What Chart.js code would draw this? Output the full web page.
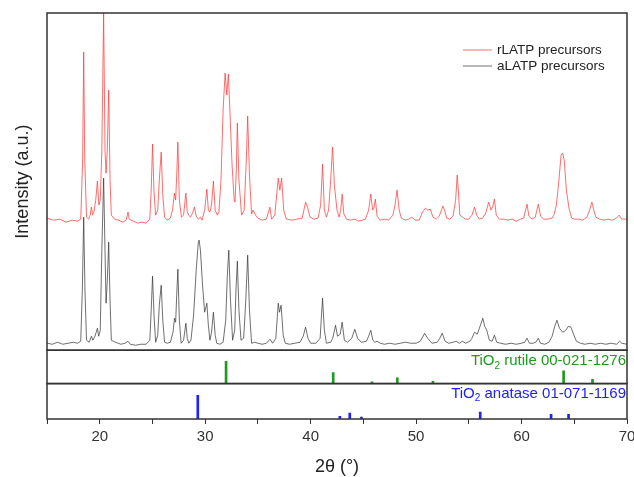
<!DOCTYPE html>
<html>
<head>
<meta charset="utf-8">
<script src="https://cdn.jsdelivr.net/npm/chart.js@4.4.0/dist/chart.umd.min.js"></script>
<style>
  html, body { margin: 0; padding: 0; background: #fff; overflow: hidden; }
  #wrap { width: 634px; height: 477px; }
</style>
</head>
<body>
<div id="wrap"><canvas id="xrdChart" width="634" height="477"></canvas></div>
<script>
// XRD patterns, [2theta, intensity (a.u.)]
var rlatp = [
  [15.0,132],[15.6,130],[16.2,131],[16.8,128],[17.4,130],[17.9,129],
  [18.2,131],[18.38,190],[18.48,298],[18.58,190],[18.75,133],
  [18.95,131],[19.1,135],[19.21,143],[19.32,135],[19.45,138],[19.62,150],[19.78,169],[19.92,145],
  [20.05,150],[20.2,200],[20.37,337],[20.5,200],[20.6,177],[20.72,200],[20.85,260],[20.98,170],[21.1,135],
  [21.4,131],[21.8,130],[22.2,128],[22.5,130],[22.68,138],[22.8,131],[23.2,129],[23.6,127],[24.0,128],[24.4,127],
  [24.75,131],[24.88,160],[25.01,206],[25.14,160],[25.3,135],[25.5,140],[25.65,170],[25.83,198],[25.98,155],[26.15,133],
  [26.4,130],[26.7,132],[26.9,140],[27.09,157],[27.2,150],[27.3,175],[27.41,208],[27.55,150],[27.75,133],
  [27.95,135],[28.17,157],[28.3,138],[28.45,135],[28.6,133],[28.8,137],[28.98,143],[29.15,134],[29.35,131],
  [29.55,133],[29.7,130],[29.95,140],[30.16,161],[30.3,140],[30.45,138],[30.6,145],[30.78,169],[30.95,140],[31.15,135],
  [31.3,138],[31.5,170],[31.7,240],[31.89,277],[32.05,255],[32.2,276],[32.38,230],[32.55,185],[32.75,150],[32.83,148],
  [32.95,180],[33.05,227],[33.2,170],[33.45,135],[33.7,140],[33.9,190],[34.03,234],[34.2,175],[34.4,136],
  [34.55,140],[34.72,136],[34.85,134],[35.0,132],[35.4,130],[35.8,131],[36.14,143],[36.3,131],[36.6,135],
  [36.93,172],[37.08,160],[37.25,172],[37.45,140],[37.7,131],[38.2,130],[38.7,131],[39.2,132],[39.52,148],[39.7,143],
  [39.95,133],[40.3,131],[40.7,132],[40.95,145],[41.13,186],[41.3,140],[41.5,133],[41.7,140],[41.9,170],[42.08,203],
  [42.25,165],[42.5,140],[42.7,133],[42.85,140],[42.99,156],[43.15,136],[43.4,131],[43.8,130],[44.2,131],[44.5,129],
  [44.9,130],[45.2,131],[45.5,140],[45.7,156],[45.88,140],[46.0,142],[46.14,151],[46.3,134],[46.6,130],[47.0,131],
  [47.4,130],[47.8,135],[48.0,145],[48.19,160],[48.4,140],[48.6,132],[49.0,130],[49.3,131],[49.6,133],[49.9,130],
  [50.3,130],[50.6,138],[50.9,142],[51.1,140],[51.35,141],[51.6,133],[51.9,131],[52.2,134],[52.54,144],[52.7,140],
  [52.9,132],[53.2,131],[53.5,134],[53.75,150],[53.9,175],[54.0,160],[54.15,135],[54.4,133],[54.7,131],[55.0,131],
  [55.3,135],[55.54,143],[55.75,135],[56.0,131],[56.3,132],[56.6,137],[56.89,148],[57.1,140],[57.25,143],[57.43,151],
  [57.6,135],[57.9,131],[58.3,131],[58.7,130],[59.1,131],[59.5,129],[59.9,131],[60.2,132],[60.52,146],[60.7,134],
  [61.0,131],[61.3,133],[61.59,146],[61.8,134],[62.1,131],[62.5,131],[62.9,132],[63.1,136],[63.3,145],[63.5,165],
  [63.75,195],[63.89,197],[64.05,190],[64.25,160],[64.5,142],[64.75,132],[65.0,131],[65.4,131],[65.8,130],[66.2,133],
  [66.45,140],[66.67,148],[66.85,140],[67.05,133],[67.4,131],[67.8,130],[68.2,131],[68.6,130],[69.0,132],[69.26,135],
  [69.5,131],[70.0,131]
];

var alatp = [
  [15.0,7],[15.5,6],[16.0,8],[16.5,6],[17.0,7],[17.5,8],[17.9,7],
  [18.2,9],[18.35,60],[18.48,133],[18.6,60],[18.75,10],[19.0,8],[19.21,14],[19.35,10],[19.55,14],[19.78,22],[19.9,14],
  [20.05,20],[20.2,100],[20.37,172],[20.5,100],[20.6,47],[20.72,70],[20.85,108],[20.98,50],[21.1,10],
  [21.5,8],[22.0,6],[22.4,7],[22.68,9],[22.9,6],[23.4,5],[23.9,6],[24.4,6],
  [24.75,10],[24.88,40],[25.01,74],[25.15,35],[25.3,8],[25.5,15],[25.65,45],[25.83,65],[25.98,30],[26.15,8],
  [26.4,7],[26.7,8],[26.95,18],[27.09,32],[27.2,28],[27.3,55],[27.41,81],[27.55,30],[27.72,7],
  [27.95,10],[28.17,27],[28.3,12],[28.45,7],[28.65,10],[28.9,35],[29.15,80],[29.35,108],[29.43,110],[29.55,100],
  [29.75,65],[29.95,38],[30.05,42],[30.16,47],[30.3,25],[30.45,10],[30.6,18],[30.78,38],[30.95,15],[31.1,7],
  [31.4,6],[31.7,8],[31.95,30],[32.1,75],[32.24,100],[32.4,50],[32.6,10],[32.8,20],[32.92,60],[33.05,89],
  [33.2,40],[33.4,10],[33.65,12],[33.85,50],[34.03,95],[34.2,40],[34.4,7],[34.7,8],[35.0,7],[35.4,6],
  [35.8,7],[36.14,11],[36.4,7],[36.7,12],[36.93,47],[37.05,38],[37.2,45],[37.4,15],[37.6,7],[38.0,6],
  [38.5,7],[39.0,8],[39.3,14],[39.52,23],[39.75,12],[40.0,7],[40.5,7],[40.9,12],[41.0,30],[41.13,52],
  [41.3,20],[41.5,7],[41.9,8],[42.1,12],[42.36,25],[42.55,14],[42.8,16],[42.99,28],[43.2,10],[43.5,8],
  [43.9,12],[44.19,21],[44.45,12],[44.8,8],[45.3,9],[45.5,14],[45.7,20],[45.9,10],[46.1,8],[46.3,9],
  [46.6,7],[47.0,6],[47.5,7],[48.0,6],[48.5,7],[49.0,8],[49.5,7],[50.0,7],[50.4,9],[50.81,17],
  [51.1,12],[51.5,7],[52.0,8],[52.25,12],[52.48,17],[52.75,9],[53.1,7],[53.5,8],[53.8,9],[54.1,7],
  [54.4,9],[54.7,7],[55.1,9],[55.3,12],[55.54,18],[55.8,16],[56.0,22],[56.33,32],[56.5,24],[56.7,20],
  [56.95,10],[57.2,9],[57.43,15],[57.65,8],[58.0,7],[58.5,6],[59.0,7],[59.5,6],[60.0,7],[60.3,8],
  [60.52,12],[60.75,7],[61.1,7],[61.35,8],[61.59,12],[61.8,7],[62.2,6],[62.6,8],[62.9,14],[63.15,24],
  [63.36,30],[63.6,22],[63.9,18],[64.2,20],[64.45,24],[64.69,23],[64.9,17],[65.2,9],[65.6,7],[66.0,6],
  [66.5,7],[67.0,6],[67.5,7],[68.0,6],[68.5,7],[69.0,6],[69.3,9],[69.5,7],[70.0,6]
];

// reference cards (stick positions and relative heights)
var rutilePos = [31.98, 42.14, 45.82, 48.22, 51.6, 63.99, 66.73];
var rutileInt = [22.3, 11, 1.7, 5.7, 2.3, 12.7, 4.3];
var anatasePos = [29.3, 42.77, 43.71, 44.82, 56.08, 62.8, 64.46];
var anataseInt = [23.7, 2.7, 6, 2, 7, 4.7, 4.7];

var seriesNames = ['rLATP precursors', 'aLATP precursors'];
var rutileLabel = ['TiO', '2', ' rutile 00-021-1276'];
var anataseLabel = ['TiO', '2', ' anatase 01-071-1169'];

var FONT = '"Liberation Sans", Arial, sans-serif';
var redLine = 'rgba(255, 60, 60, 0.75)';
var greyLine = 'rgba(50, 50, 50, 0.7)';
var green = '#1e9a1e';
var blue = '#2020ff';

function toPoints(arr) {
  return arr.map(function (p) { return { x: p[0], y: p[1] }; });
}
function toSticks(pos, h) {
  return pos.map(function (x, i) { return { x: x, y: h[i] }; });
}

// draws "TiO" + subscript "2" + rest, right aligned
function drawSubLabel(ctx, parts, right, y, color) {
  ctx.fillStyle = color;
  ctx.textBaseline = 'middle';
  ctx.textAlign = 'left';
  ctx.font = '15px ' + FONT;
  var w1 = ctx.measureText(parts[0]).width;
  var w3 = ctx.measureText(parts[2]).width;
  ctx.font = '10px ' + FONT;
  var w2 = ctx.measureText(parts[1]).width;
  var x = right - w1 - w2 - w3;
  ctx.font = '15px ' + FONT;
  ctx.fillText(parts[0], x, y);
  ctx.font = '10px ' + FONT;
  ctx.fillText(parts[1], x + w1, y + 5);
  ctx.font = '15px ' + FONT;
  ctx.fillText(parts[2], x + w1 + w2, y);
}

var framePlugin = {
  id: 'frame',
  afterDatasetsDraw: function (chart) {
    var ctx = chart.ctx;
    var area = chart.chartArea;
    ctx.save();
    ctx.strokeStyle = '#333';
    ctx.lineWidth = 1.5;
    ['y', 'yR', 'yA'].forEach(function (id) {
      var s = chart.scales[id];
      ctx.strokeRect(area.left, s.top, area.right - area.left, s.bottom - s.top);
    });

    // legend
    var colors = [redLine, greyLine];
    ctx.font = '13.5px ' + FONT;
    ctx.textBaseline = 'middle';
    ctx.textAlign = 'left';
    seriesNames.forEach(function (name, i) {
      var y = chart.scales.y.top + 37 + i * 16;
      ctx.strokeStyle = colors[i];
      ctx.lineWidth = 1;
      ctx.beginPath();
      ctx.moveTo(area.right - 164, y);
      ctx.lineTo(area.right - 135, y);
      ctx.stroke();
      ctx.fillStyle = '#222';
      ctx.fillText(name, area.right - 130, y);
    });

    drawSubLabel(ctx, rutileLabel, area.right - 1, chart.scales.yR.top + 11, green);
    drawSubLabel(ctx, anataseLabel, area.right - 1, chart.scales.yA.top + 10, blue);
    ctx.restore();
  }
};

var ctx = document.getElementById('xrdChart').getContext('2d');
var myChart = new Chart(ctx, {
  type: 'scatter',
  data: {
    datasets: [
      {
        label: seriesNames[0],
        data: toPoints(rlatp),
        showLine: true,
        borderColor: redLine,
        borderWidth: 1,
        pointRadius: 0,
        yAxisID: 'y'
      },
      {
        label: seriesNames[1],
        data: toPoints(alatp),
        showLine: true,
        borderColor: greyLine,
        borderWidth: 1,
        pointRadius: 0,
        yAxisID: 'y'
      },
      {
        type: 'bar',
        label: 'rutile',
        data: toSticks(rutilePos, rutileInt),
        backgroundColor: green,
        barThickness: 2,
        grouped: false,
        yAxisID: 'yR'
      },
      {
        type: 'bar',
        label: 'anatase',
        data: toSticks(anatasePos, anataseInt),
        backgroundColor: blue,
        barThickness: 2,
        grouped: false,
        yAxisID: 'yA'
      }
    ]
  },
  options: {
    responsive: false,
    animation: false,
    layout: {
      autoPadding: false,
      padding: { left: 0, right: 7, top: 13, bottom: 0 }
    },
    plugins: {
      legend: { display: false },
      tooltip: { enabled: false }
    },
    scales: {
      x: {
        type: 'linear',
        min: 15,
        max: 70,
        offset: false,
        grid: { drawOnChartArea: false, offset: false, tickLength: 5, color: '#333', tickColor: '#333' },
        border: { display: false },
        ticks: {
          stepSize: 5,
          padding: 4,
          color: '#333',
          font: { family: FONT, size: 15 },
          maxRotation: 0,
          autoSkip: false,
          callback: function (v) { return v % 10 === 0 ? v : ''; }
        },
        title: {
          display: true,
          text: '2θ (°)',
          color: '#222',
          font: { family: FONT, size: 18, lineHeight: 1 },
          padding: { top: 0, bottom: 1 }
        },
        // the "70" label is allowed to run off the right edge, as in the original
        afterFit: function (s) { s.height = 58; s.paddingLeft = 0; s.paddingRight = 0; }
      },
      y: {
        type: 'linear',
        stack: 'panels',
        stackWeight: 337,
        weight: 3,
        min: 0,
        max: 337,
        grid: { display: false },
        border: { display: false },
        ticks: { display: false },
        title: {
          display: true,
          text: 'Intensity (a.u.)',
          color: '#222',
          font: { family: FONT, size: 18, lineHeight: 1 },
          padding: { top: 14, bottom: 0 }
        },
        afterFit: function (s) { s.width = 47; }
      },
      yR: {
        type: 'linear',
        stack: 'panels',
        stackWeight: 33.3,
        weight: 2,
        min: 0,
        max: 33.3,
        grid: { display: false },
        border: { display: false },
        ticks: { display: false },
        afterFit: function (s) { s.width = 47; }
      },
      yA: {
        type: 'linear',
        stack: 'panels',
        stackWeight: 35.4,
        weight: 1,
        min: 0,
        max: 35.4,
        grid: { display: false },
        border: { display: false },
        ticks: { display: false },
        afterFit: function (s) { s.width = 47; }
      }
    }
  },
  plugins: [framePlugin]
});
</script>
</body>
</html>
